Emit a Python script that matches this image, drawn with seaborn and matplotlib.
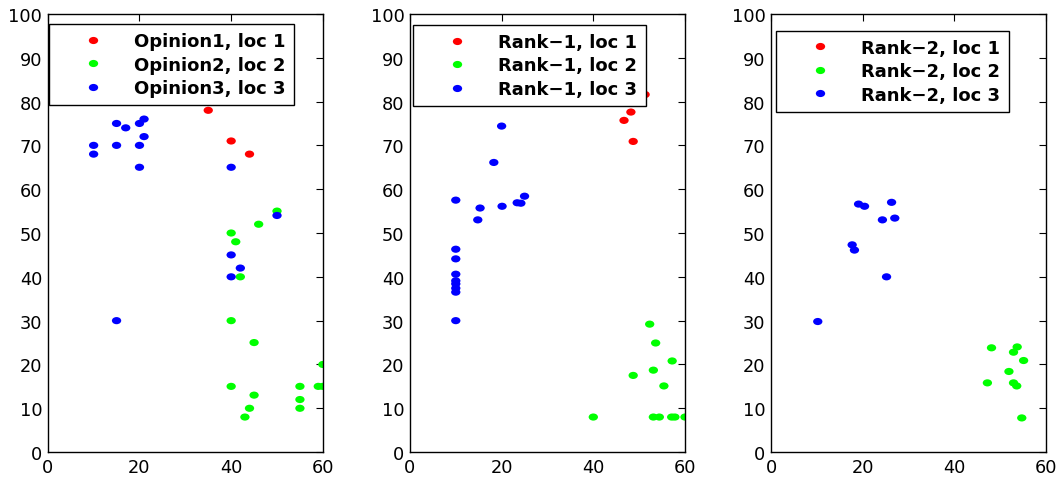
import pandas as pd
import numpy as np
import seaborn as sns
import matplotlib.pyplot as plt
from matplotlib.path import Path
from matplotlib.transforms import Affine2D

# Panel 1: opinions
op_loc1_x = [35, 45, 50, 40, 44]
op_loc1_y = [78, 80, 80, 71, 68]
op_loc2_x = [50, 46, 40, 41, 42, 40, 45, 60, 40, 55, 59, 60, 45, 55, 44, 55, 43]
op_loc2_y = [55, 52, 50, 48, 40, 30, 25, 20, 15, 15, 15, 15, 13, 12, 10, 10, 8]
op_loc3_x = [10, 10, 15, 17, 20, 21, 21, 15, 20, 20, 40, 50, 40, 42, 40, 15]
op_loc3_y = [70, 68, 75, 74, 75, 76, 72, 70, 70, 65, 65, 54, 45, 42, 40, 30]

# Panel 2: rank-1
r1_loc1_x = [51.3, 48.2, 46.7, 48.7]
r1_loc1_y = [81.6, 77.6, 75.7, 70.9]
r1_loc2_x = [52.3, 53.6, 57.2, 48.7, 53.1, 55.4, 40, 53.1, 54.4, 57.1, 57.8, 60]
r1_loc2_y = [29.2, 24.9, 20.8, 17.5, 18.7, 15.1, 8, 8, 8, 8, 8, 8]
r1_loc3_x = [20, 18.3, 10, 15.3, 14.8, 20.1, 23.4, 24.2, 25,
             10, 10, 10, 10, 10, 10, 10, 10]
r1_loc3_y = [74.4, 66.1, 57.5, 55.7, 53.0, 56.1, 56.9, 56.8, 58.4,
             46.3, 44.1, 40.6, 39.1, 38.4, 37.4, 36.5, 30]

# Panel 3: rank-2 (no loc 1 points visible)
r2_loc1_x = []
r2_loc1_y = []
r2_loc2_x = [48.1, 53.7, 52.9, 55.1, 51.9, 47.2, 52.9, 53.6, 54.7]
r2_loc2_y = [23.8, 24.0, 22.8, 20.9, 18.4, 15.8, 15.8, 15.1, 7.8]
r2_loc3_x = [19.1, 20.4, 26.3, 24.3, 27.0, 17.7, 18.2, 25.2, 10.2]
r2_loc3_y = [56.6, 56.1, 57.0, 53.0, 53.4, 47.3, 46.1, 40.0, 29.8]

panels = [
    ('Opinion{0}, loc {1}', [(op_loc1_x, op_loc1_y), (op_loc2_x, op_loc2_y), (op_loc3_x, op_loc3_y)]),
    ('Rank\u22121, loc {1}', [(r1_loc1_x, r1_loc1_y), (r1_loc2_x, r1_loc2_y), (r1_loc3_x, r1_loc3_y)]),
    ('Rank\u22122, loc {1}', [(r2_loc1_x, r2_loc1_y), (r2_loc2_x, r2_loc2_y), (r2_loc3_x, r2_loc3_y)]),
]

sns.set_style('white')
plt.rcParams['font.family'] = ['DejaVu Sans']
plt.rcParams['text.color'] = 'black'
plt.rcParams['xtick.color'] = 'black'
plt.rcParams['ytick.color'] = 'black'

# slightly wide dots, like the original export
circ = Path.unit_circle()
ellipse = Affine2D().scale(1.3, 1.0).transform_path(circ)

fig = plt.figure(figsize=(10.62, 4.81), dpi=100)
lefts = [0.045, 0.386, 0.726]
anchors = [(0.003, 0.977), (0.01, 0.975), (0.017, 0.962)]

for left, anc, (fmt, series) in zip(lefts, anchors, panels):
    ax = fig.add_axes([left, 0.058, 0.259, 0.911])
    rows = []
    labels = []
    for i, (xs, ys) in enumerate(series):
        lab = fmt.format(i + 1, i + 1)
        labels.append(lab)
        for x, y in zip(xs, ys):
            rows.append({'x': x, 'y': y, 'series': lab})
    df = pd.DataFrame(rows)
    palette = dict(zip(labels, ['#ff0000', '#00ff00', '#0000ff']))
    sns.scatterplot(data=df, x='x', y='y', hue='series', hue_order=labels,
                    palette=palette, s=45, linewidth=0, marker=ellipse, ax=ax)
    ax.set_xlim(0, 60)
    ax.set_ylim(0, 100)
    ax.set_xticks([0, 20, 40, 60])
    ax.set_yticks(np.arange(0, 101, 10))
    ax.set_xlabel('')
    ax.set_ylabel('')
    ax.tick_params(direction='in', top=True, right=True, length=5,
                   labelsize=12.8, colors='black', width=0.8, pad=4)
    for sp in ax.spines.values():
        sp.set_color('black')
        sp.set_linewidth(1)
    leg = ax.legend(loc='upper left', bbox_to_anchor=anc, borderaxespad=0,
                    prop={'weight': 'bold', 'size': 13}, frameon=True,
                    fancybox=False, edgecolor='black', framealpha=1,
                    handletextpad=0.3, borderpad=0.45, labelspacing=0.3,
                    handlelength=4.0)
    leg.get_frame().set_linewidth(1)
    for t in leg.get_texts():
        t.set_color('black')

fig.savefig('out.png', dpi=100)
